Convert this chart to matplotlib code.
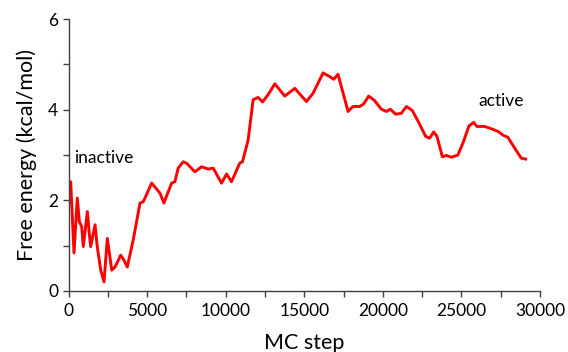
import matplotlib
matplotlib.use('Agg')
import matplotlib.pyplot as plt
from matplotlib.ticker import MultipleLocator

plt.rcParams['font.family'] = ['Lato', 'DejaVu Sans']

# MC step / free energy (kcal/mol)
mc_step = [0, 60, 140, 350, 560, 690, 840, 940, 1200, 1320, 1410, 1690, 1830,
           2050, 2260, 2470, 2750, 2960, 3320, 3530, 3740, 4120, 4550, 4760,
           5290, 5820, 6070, 6560, 6770, 6980, 7300, 7510, 8040, 8470, 8890,
           9210, 9740, 10060, 10370, 10900, 11070, 11430, 11750, 12070, 12350,
           12700, 13130, 13760, 14400, 15140, 15560, 16200, 16620, 16880,
           17150, 17790, 18100, 18530, 18790, 19100, 19480, 19910, 20230,
           20480, 20820, 21180, 21500, 21880, 22240, 22730, 22980, 23240,
           23450, 23790, 24040, 24360, 24780, 25140, 25480, 25780, 25990,
           26480, 26900, 27330, 27640, 27960, 28490, 28810, 29090]
free_energy = [2.45, 1.94, 2.41, 0.84, 2.05, 1.53, 1.42, 0.98, 1.75, 1.28, 0.98,
               1.46, 0.98, 0.46, 0.20, 1.16, 0.46, 0.53, 0.79, 0.68, 0.53, 1.13,
               1.94, 1.97, 2.38, 2.16, 1.94, 2.38, 2.41, 2.71, 2.85, 2.82, 2.63,
               2.74, 2.69, 2.71, 2.38, 2.58, 2.41, 2.82, 2.85, 3.33, 4.22, 4.27,
               4.17, 4.33, 4.57, 4.30, 4.47, 4.18, 4.36, 4.81, 4.73, 4.67, 4.78,
               3.96, 4.07, 4.07, 4.13, 4.30, 4.20, 4.01, 3.96, 4.01, 3.90, 3.92,
               4.07, 3.98, 3.75, 3.41, 3.37, 3.51, 3.41, 2.96, 2.99, 2.95, 3.00,
               3.30, 3.64, 3.72, 3.63, 3.63, 3.58, 3.52, 3.44, 3.39, 3.10, 2.93,
               2.91]

fig = plt.figure(figsize=(5.68, 3.52), dpi=100)
ax = fig.add_axes([0.1206, 0.1733, 0.83, 0.7727])

ax.plot(mc_step, free_energy, color='#ff0000', lw=2.1)

ax.set_xlim(0, 30000)
ax.set_ylim(0, 6)
ax.xaxis.set_major_locator(MultipleLocator(5000))
ax.xaxis.set_minor_locator(MultipleLocator(2500))
ax.yaxis.set_major_locator(MultipleLocator(2))
ax.yaxis.set_minor_locator(MultipleLocator(1))

for s in ['top', 'right']:
    ax.spines[s].set_visible(False)
for s in ['left', 'bottom']:
    ax.spines[s].set_color('#404040')
    ax.spines[s].set_linewidth(1)

ax.tick_params(which='both', direction='out', color='#404040', width=1, length=4)
ax.tick_params(which='major', labelsize=12.5, colors='#404040', labelcolor='black')
ax.tick_params(axis='x', which='major', pad=5)

ax.set_xlabel('MC step', fontsize=15.5, labelpad=10)
ax.set_ylabel('Free energy (kcal/mol)', fontsize=15.5, labelpad=8)

ax.text(350, 2.94, 'inactive', fontsize=12.5, va='center', ha='left')
ax.text(27560, 4.19, 'active', fontsize=12.5, va='center', ha='center')

plt.savefig('out.png', dpi=100)
